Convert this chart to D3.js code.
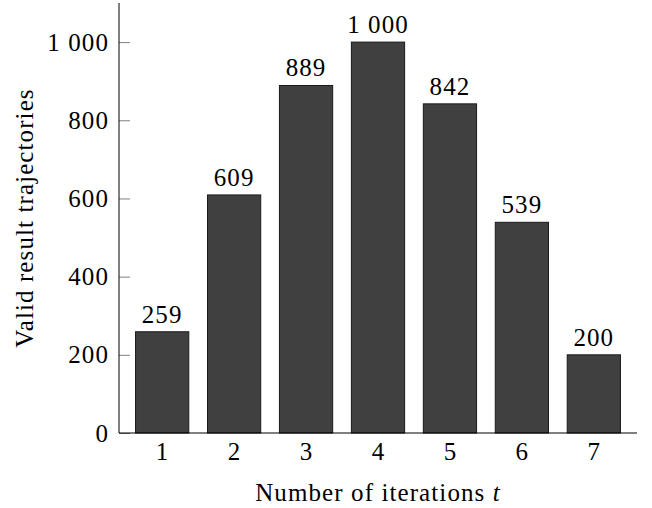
<!DOCTYPE html>
<html>
<head>
<meta charset="utf-8">
<script src="https://cdn.jsdelivr.net/npm/d3@7"></script>
<style>
  body { margin: 0; background: #fff; }
  text { font-family: "Liberation Serif", "DejaVu Serif", serif; fill: #000; letter-spacing: 1.1px; }
</style>
</head>
<body>
<svg id="chart" width="652" height="508"></svg>
<script>
const iterations = [1, 2, 3, 4, 5, 6, 7];
const trajectories = [259, 609, 889, 1000, 842, 539, 200];
const yTicks = [0, 200, 400, 600, 800, 1000];

const marginLeft = 119;
const marginTop = 3;
const plotWidth = 518;
const plotHeight = 430;
const fontSize = 25;

const svg = d3.select("#chart");
const fmt = (v) => (v >= 1000 ? d3.format(",")(v).replace(",", " ") : String(v));

const xScale = d3.scaleLinear().domain([0.4, 7.6]).range([marginLeft, marginLeft + plotWidth]);
const yScale = d3.scaleLinear().domain([0, 1100]).range([marginTop + plotHeight, marginTop]);
const barWidth = xScale(1.74) - xScale(1);

// bars
svg.selectAll(".bar")
  .data(iterations)
  .enter()
  .append("rect")
  .attr("class", "bar")
  .attr("x", (d) => xScale(d) - barWidth / 2)
  .attr("y", (d, i) => yScale(trajectories[i]))
  .attr("width", barWidth)
  .attr("height", (d, i) => yScale(0) - yScale(trajectories[i]))
  .attr("fill", "#404040")
  .attr("stroke", "#1a1a1a")
  .attr("stroke-width", 1);

// value labels
svg.selectAll(".valLabel")
  .data(iterations)
  .enter()
  .append("text")
  .attr("class", "valLabel")
  .attr("x", (d) => xScale(d))
  .attr("y", (d, i) => yScale(trajectories[i]) - 9)
  .attr("text-anchor", "middle")
  .attr("font-size", fontSize)
  .text((d, i) => fmt(trajectories[i]));

// y axis
const yAxis = d3.axisLeft(yScale).tickValues(yTicks).tickSize(0).tickPadding(10).tickFormat(fmt);
const gy = svg.append("g").attr("transform", `translate(${marginLeft},0)`).call(yAxis);
gy.select(".domain").remove();
gy.attr("font-family", null);
gy.selectAll("text").attr("font-size", fontSize);
gy.selectAll(".tick")
  .append("line")
  .attr("x1", 0)
  .attr("x2", 11)
  .attr("stroke", "#808080");

// x axis
const xAxis = d3.axisBottom(xScale).tickValues(iterations).tickSize(0).tickPadding(9).tickFormat(d3.format("d"));
const gx = svg.append("g").attr("transform", `translate(0,${marginTop + plotHeight})`).call(xAxis);
gx.select(".domain").remove();
gx.attr("font-family", null);
gx.selectAll("text").attr("font-size", fontSize);

// axis lines
svg.append("line")
  .attr("x1", marginLeft).attr("x2", marginLeft + plotWidth)
  .attr("y1", yScale(0)).attr("y2", yScale(0))
  .attr("stroke", "#000").attr("stroke-width", 1);
svg.append("line")
  .attr("x1", marginLeft).attr("x2", marginLeft)
  .attr("y1", yScale(1100)).attr("y2", yScale(0))
  .attr("stroke", "#000").attr("stroke-width", 1);

// axis titles
const xTitle = svg.append("text")
  .attr("x", xScale(4))
  .attr("y", 501)
  .attr("text-anchor", "middle")
  .attr("font-size", fontSize);
xTitle.append("tspan").text("Number of iterations ");
xTitle.append("tspan").attr("font-style", "italic").text("t");

svg.append("text")
  .attr("transform", `translate(33,${yScale(550)}) rotate(-90)`)
  .attr("text-anchor", "middle")
  .attr("font-size", fontSize)
  .text("Valid result trajectories");
</script>
</body>
</html>
